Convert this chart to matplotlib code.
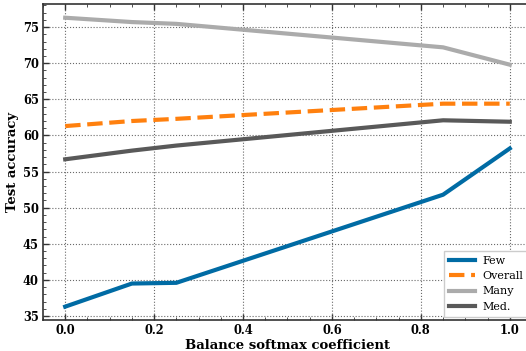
import matplotlib
matplotlib.use("Agg")
import matplotlib.pyplot as plt
from matplotlib.ticker import MultipleLocator

# balance softmax coefficient
coef = [0.0, 0.15, 0.25, 0.85, 1.0]

few = [36.3, 39.5, 39.6, 51.8, 58.2]
overall = [61.3, 62.0, 62.3, 64.4, 64.4]
many = [76.3, 75.7, 75.45, 72.2, 69.8]
med = [56.7, 57.9, 58.6, 62.1, 61.9]

colors = {
    "Few": "#006BA4",
    "Overall": "#FF800E",
    "Many": "#ABABAB",
    "Med.": "#595959",
}

plt.rcParams["font.family"] = ["DejaVu Serif"]

fig = plt.figure(figsize=(5.26, 3.51), dpi=100)
ax = fig.add_axes([0.0817, 0.0883, 0.9297, 0.9003])

lw = 3.0
ax.plot(coef, few, color=colors["Few"], lw=lw, label="Few")
ax.plot(coef, overall, color=colors["Overall"], lw=lw, ls="--", label="Overall")
ax.plot(coef, many, color=colors["Many"], lw=lw, label="Many")
ax.plot(coef, med, color=colors["Med."], lw=lw, label="Med.")

ax.set_xlim(-0.05, 1.05)
ax.set_ylim(34.45, 78.2)
ax.xaxis.set_major_locator(MultipleLocator(0.2))
ax.xaxis.set_minor_locator(MultipleLocator(0.05))
ax.yaxis.set_major_locator(MultipleLocator(5))
ax.yaxis.set_minor_locator(MultipleLocator(1))

ax.tick_params(which="both", direction="in", top=True, right=True, colors="#333333")
ax.tick_params(which="major", length=4, width=1.0, labelsize=8.3, labelcolor="black", pad=3)
ax.tick_params(which="minor", length=2, width=0.6)
for lab in ax.get_xticklabels() + ax.get_yticklabels():
    lab.set_fontweight("bold")

for sp in ax.spines.values():
    sp.set_color("#333333")
    sp.set_linewidth(1.2)

ax.grid(True, which="major", ls=":", color="#6a6a6a", lw=0.8)

ax.set_xlabel("Balance softmax coefficient", fontsize=9.5, fontweight="bold", labelpad=1)
ax.set_ylabel("Test accuracy", fontsize=9.5, fontweight="bold", labelpad=3)

leg = ax.legend(loc="lower right", fontsize=8, fancybox=False, framealpha=1.0,
                edgecolor="#cccccc", handlelength=2.35, handletextpad=0.7,
                labelspacing=0.47, borderpad=0.45, borderaxespad=0.3,
                bbox_to_anchor=(1.0, 0.0))

fig.savefig("out.png", dpi=100)
